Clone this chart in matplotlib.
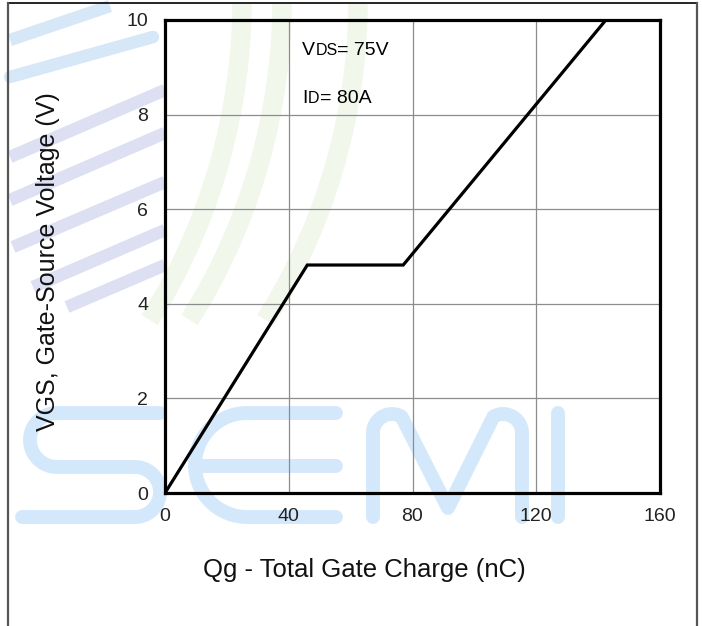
"""Gate charge curve: VGS vs Qg"""
import matplotlib
matplotlib.use("Agg")
import matplotlib.pyplot as plt
from matplotlib.lines import Line2D
import numpy as np

plt.rcParams["font.family"] = ["Liberation Sans", "DejaVu Sans"]

# data
QG_NC = [0, 46, 77, 142.5]
VGS_V = [0, 4.82, 4.82, 10]
X_TICKS = [0, 40, 80, 120, 160]
Y_TICKS = [0, 2, 4, 6, 8, 10]

W, H = 702, 626
FIG = plt.figure(figsize=(W / 100, H / 100), dpi=100)


def px(xs, ys):
    """pixel coords (top-left origin) -> figure fraction"""
    return np.asarray(xs) / W, 1 - np.asarray(ys) / H


def stroke(xs, ys, color, width, cap="round"):
    fx, fy = px(xs, ys)
    FIG.add_artist(Line2D(fx, fy, transform=FIG.transFigure, color=color,
                          lw=width, solid_capstyle=cap,
                          solid_joinstyle="round", zorder=-1))


def arc(cx, cy, r, a0, a1, n=40):
    t = np.radians(np.linspace(a0, a1, n))
    return cx + r * np.cos(t), cy - r * np.sin(t)


# background watermark: diagonal bands
for (x0, y0), (x1, y1) in [((10, 157), (165, 90)), ((10, 200), (165, 133)),
                           ((13, 247), (165, 182)), ((33, 287), (165, 230)),
                           ((67, 307), (165, 265))]:
    stroke([x0, x1], [y0, y1], "#dde0f2", 9, cap="butt")
stroke([10, 153], [77, 37], "#d6e7f8", 9)
stroke([10, 110], [40, 6], "#d6e7f8", 9, cap="butt")
# faint green arcs
for top_x in [242, 282, 358]:
    gy = np.linspace(4, 320, 40)
    gx = top_x - 600 + np.sqrt(600 ** 2 - gy ** 2)
    stroke(gx, gy, "#f2f7ec", 14, cap="butt")

# "SEMI" outline letters
BLUE = "#d4e8fb"
LW = 10
ax_, ay_ = arc(57, 440, 27, 90, 270)
bx_, by_ = arc(135, 492, 25, 90, -90)
stroke(np.r_[160, ax_, bx_, 22], np.r_[413, ay_, by_, 517], BLUE, LW)
ex_, ey_ = arc(247, 465, 52, 90, 270)
stroke(np.r_[336, ex_, 336], np.r_[413, ey_, 517], BLUE, LW)
stroke([198, 336], [466, 466], BLUE, LW)
m1x, m1y = arc(392, 433, 19, 180, 60, 20)
m2x, m2y = arc(503, 433, 19, 120, 0, 20)
stroke(np.r_[373, m1x, 448, m2x, 522], np.r_[517, m1y, 508, m2y, 517], BLUE, LW)
stroke([558, 558], [413, 517], BLUE, LW)

# page frame
FIG.add_artist(Line2D([8 / W, 697 / W], [1 - 3 / H] * 2, transform=FIG.transFigure,
                      color="black", lw=1.2))
for fx in [8, 697]:
    FIG.add_artist(Line2D([fx / W] * 2, [0, 1 - 3 / H], transform=FIG.transFigure,
                          color="#555555", lw=1.6))

AX = FIG.add_axes([165 / W, 1 - 493 / H, (660 - 165) / W, (493 - 20) / H])
AX.set_facecolor("none")
AX.plot(QG_NC, VGS_V, color="black", lw=2.3, solid_joinstyle="miter", zorder=3)
AX.set_xlim(0, 160)
AX.set_ylim(0, 10)
AX.set_xticks(X_TICKS)
AX.set_yticks(Y_TICKS)
AX.grid(True, color="#8c8c8c", lw=0.9)
AX.tick_params(length=0, labelsize=14, colors="#222222")
AX.tick_params(axis="x", pad=11)
AX.tick_params(axis="y", pad=12)
for spine in AX.spines.values():
    spine.set_linewidth(2.3)
    spine.set_zorder(4)

AX.set_xlabel("Qg - Total Gate Charge (nC)", fontsize=18.5, color="#111111")
AX.xaxis.set_label_coords((364 - 165) / 495, -(558 - 493) / 473)
AX.xaxis.label.set_va("top")
AX.set_ylabel("VGS, Gate-Source Voltage (V)", fontsize=18, color="#111111")
AX.yaxis.set_label_coords(-(165 - 60) / 495, 0.49)

# condition annotations (V / I large, subscripts small)
AX.text(0.277, 0.926, "V", transform=AX.transAxes, fontsize=14, va="baseline")
AX.text(0.305, 0.926, "DS", transform=AX.transAxes, fontsize=11.5, va="baseline")
AX.text(0.347, 0.926, "= 75V", transform=AX.transAxes, fontsize=14, va="baseline")
AX.text(0.277, 0.8245, "I", transform=AX.transAxes, fontsize=14, va="baseline")
AX.text(0.289, 0.8245, "D", transform=AX.transAxes, fontsize=11.5, va="baseline")
AX.text(0.313, 0.8245, "= 80A", transform=AX.transAxes, fontsize=14, va="baseline")

FIG.savefig("out.png", dpi=100)
print("Saved out.png")
